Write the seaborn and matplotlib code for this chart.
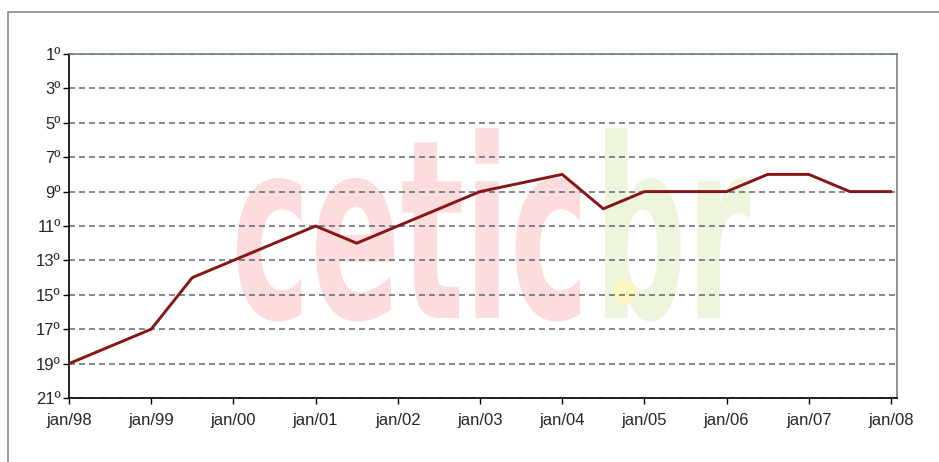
import numpy as np
import pandas as pd
import seaborn as sns
import matplotlib.pyplot as plt
from matplotlib.textpath import TextPath
from matplotlib.patches import PathPatch, Rectangle, Circle
from matplotlib.font_manager import FontProperties
from matplotlib.transforms import Affine2D, IdentityTransform

# ranking over time (semiannual readings, only the vertices of the line)
periods = ["jan/98", "jul/98", "jan/99", "jul/99", "jan/00", "jul/00", "jan/01",
           "jul/01", "jan/02", "jul/02", "jan/03", "jan/04", "jul/04", "jan/05",
           "jan/06", "jul/06", "jan/07", "jul/07", "jan/08"]
ranks = [19, 18, 17, 14, 13, 12, 11, 12, 11, 10, 9, 8, 10, 9, 9, 8, 8, 9, 9]

tick_years = list(range(1998, 2009))
tick_labels = [f"jan/{y % 100:02d}" for y in tick_years]
rank_ticks = list(range(1, 22, 2))
rank_labels = [f"{r}º" for r in rank_ticks]


def to_year(p):
    m, y = p.split("/")
    return 1900 + int(y) + (100 if int(y) < 50 else 0) + (0.5 if m == "jul" else 0.0)


df = pd.DataFrame({"year": [to_year(p) for p in periods], "rank": ranks})

sns.set_style("white")
plt.rcParams['font.family'] = ['Liberation Sans', 'DejaVu Sans']
plt.rcParams['lines.scale_dashes'] = False

W, H = 939, 462
fig = plt.figure(figsize=(W / 100, H / 100), dpi=100)
fig.patch.set_facecolor("white")
ax = fig.add_axes([69 / W, 1 - 398 / H, (897 - 69) / W, (398 - 54) / H])
ax.patch.set_alpha(0)

# watermark
fp = FontProperties(family="DejaVu Sans", weight="bold")


def stamp(text, x0, x1, color):
    tp = TextPath((0, 0), text, size=100, prop=fp)
    ext = tp.get_extents()
    sx = (x1 - x0) / ext.width
    sy = 190 / ext.y1
    tr = Affine2D().translate(-ext.x0, 0).scale(sx, sy).translate(x0, H - 318)
    fig.add_artist(PathPatch(tr.transform_path(tp), fc=color, ec="none",
                             transform=IdentityTransform(), zorder=-2))


stamp("cetic", 237, 580, "#fcdcdc")
stamp("br", 605, 750, "#edf5dc")
fig.add_artist(Circle((625, H - 292), 12, fc="#fff6c0", ec="none",
                      transform=IdentityTransform(), zorder=-1))

sns.lineplot(data=df, x="year", y="rank", ax=ax, color="#861616", lw=2.1, zorder=3)

ax.set_xlim(1998, 2008.073)
ax.set_ylim(21, 1)
ax.set_xticks(tick_years)
ax.set_xticklabels(tick_labels)
ax.set_yticks(rank_ticks)
ax.set_yticklabels(rank_labels)
ax.set_xlabel("")
ax.set_ylabel("")
ax.tick_params(axis="x", length=4, width=1, color="black", pad=7, labelsize=12)
ax.tick_params(axis="y", length=4, width=1, color="black", pad=2, labelsize=12)
ax.tick_params(bottom=True, left=True)

ax.yaxis.grid(True, color="#5c6a72", lw=1.1, linestyle=(0, (4.3, 2.9)))
ax.xaxis.grid(False)
ax.set_axisbelow(True)

for side in ["left", "bottom"]:
    ax.spines[side].set_color("black")
    ax.spines[side].set_linewidth(1.2)
for side in ["top", "right"]:
    ax.spines[side].set_visible(True)
    ax.spines[side].set_color("#6a757c")
    ax.spines[side].set_linewidth(1.1)

# outer frame, cut off at the right and bottom
fig.add_artist(Rectangle((8 / W, -0.1), 1.2, 1.1 - 12 / H, transform=fig.transFigure,
                         fill=False, ec="#7f7f7f", lw=1.1))

fig.savefig("out.png", dpi=100)
